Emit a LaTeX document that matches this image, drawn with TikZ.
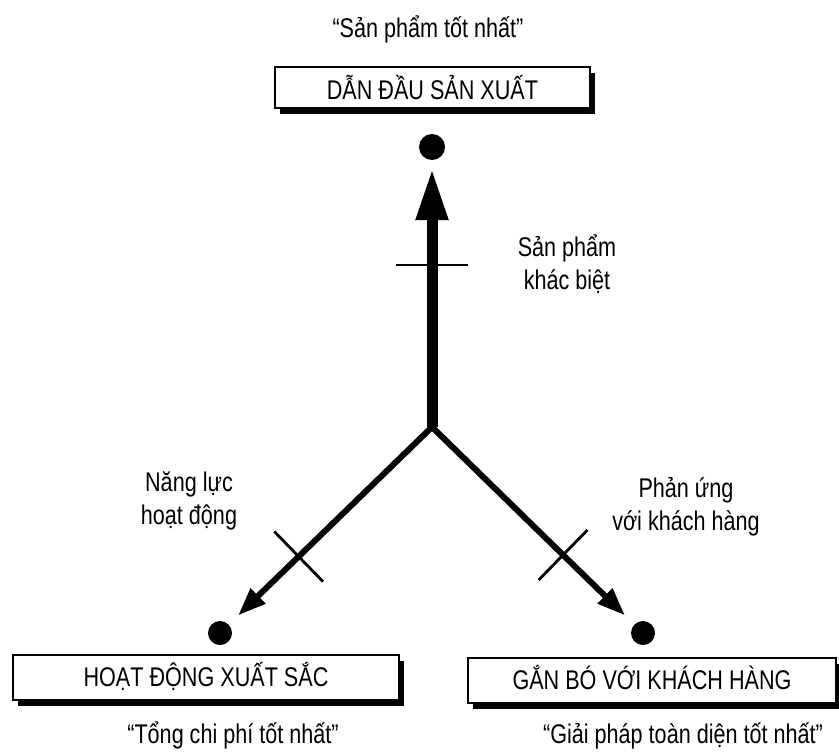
\documentclass[tikz,border=0pt]{standalone}
\usepackage{fontspec}
\setmainfont{Liberation Sans}[FakeStretch=0.80]
\usetikzlibrary{arrows.meta,calc,shadows}
\newcommand\diagfont{\fontsize{27bp}{33bp}\selectfont}

\begin{document}
\begin{tikzpicture}[
			x=1bp, y=-1bp,
			font=\diagfont,
			strategybox/.style = {draw, line width=1.4bp, fill=white, inner sep=0pt, text height=0.72em+10bp, text depth=0pt,
					drop shadow={shadow xshift=5bp, shadow yshift=-6bp, fill=black, opacity=1}},
			valuedot/.style = {circle, fill=black, inner sep=0pt},
			mainshaft/.style = {line width=11bp, -{Triangle[length=52bp, width=30bp]}, shorten >=8bp},
			branch/.style = {line width=6bp, -{Triangle[length=28bp, width=20bp]}, shorten >=13bp},
			crossmark/.style = {line width=2.8bp},
		]
		\path[use as bounding box] (0,0) rectangle (839,753);
		\node[strategybox, text height=0.72em+16bp, minimum width=315bp, minimum height=41bp] (lead) at (432.5,87.5) {DẪN ĐẦU SẢN XUẤT};
		\node[anchor=base] (leadquote) at (428,38) {“Sản phẩm tốt nhất”};
		\node[valuedot, minimum size=26bp] (topdot) at (432,147) {};
		\node[strategybox, minimum width=386bp, minimum height=45bp] (ops) at (206,677.5) {HOẠT ĐỘNG XUẤT SẮC};
		\node[anchor=base] (opsquote) at (233,743) {“Tổng chi phí tốt nhất”};
		\node[valuedot, minimum size=24bp] (leftdot) at (220,633) {};
		\node[strategybox, minimum width=368bp, minimum height=45bp] (cust) at (652,680.5) {GẮN BÓ VỚI KHÁCH HÀNG};
		\node[anchor=base] (custquote) at (683,743) {“Giải pháp toàn diện tốt nhất”};
		\node[valuedot, minimum size=24bp] (rightdot) at (643,633) {};
		\coordinate (jct) at (432,427);
		% the three value disciplines
		\draw[mainshaft] (jct) -- (topdot) coordinate[pos=0.607] (tkup);
		\draw[branch] (jct) -- (leftdot) coordinate[pos=0.656] (tkleft);
		\draw[branch] (jct) -- (rightdot) coordinate[pos=0.648] (tkright);
		\draw[crossmark] ($(tkup)!36bp!90:(jct)$) -- ($(tkup)!36bp!-90:(jct)$);
		\draw[crossmark] ($(tkleft)!35bp!90:(jct)$) -- ($(tkleft)!35bp!-90:(jct)$);
		\draw[crossmark] ($(tkright)!35bp!90:(jct)$) -- ($(tkright)!35bp!-90:(jct)$);
		\node[align=center, anchor=base] (difflabel) at (567,289) {Sản phẩm\\khác biệt};
		\node[align=center, anchor=base] (opslabel) at (189,524) {Năng lực\\hoạt động};
		\node[align=center, anchor=base] (custlabel) at (686,530) {Phản ứng\\với khách hàng};
\end{tikzpicture}
\end{document}
